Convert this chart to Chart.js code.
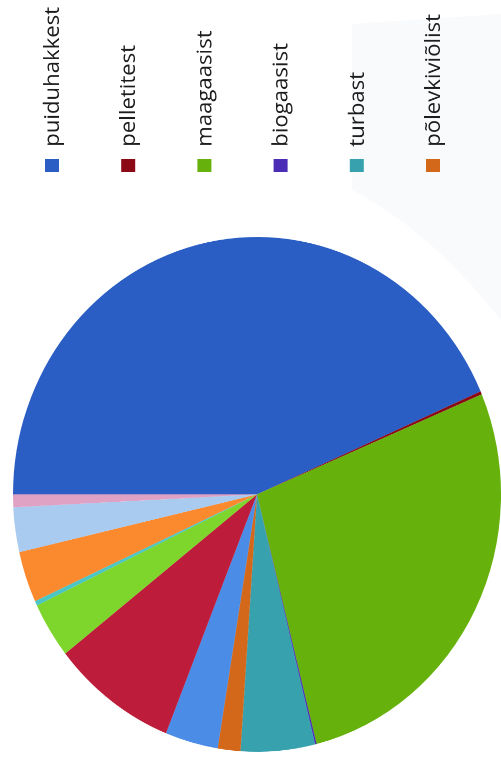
<!DOCTYPE html>
<html>
<head>
<meta charset="utf-8">
<script src="https://cdn.jsdelivr.net/npm/chart.js@4/dist/chart.umd.min.js"></script>
<style>
	body {
		margin: 0;
		background: #fff;
	}
	#wrap {
		position: relative;
		width: 501px;
		height: 765px;
		overflow: hidden;
		background: #fff;
	}
	#shade {
		position: absolute;
		left: 0;
		top: 0;
	}
	#heatChart {
		position: absolute;
		left: 0;
		top: 0;
		transform-origin: 0 0;
		/* the picture is the chart turned a quarter to the left, slightly stretched */
		transform: matrix(0, -1.055, 1, 0, 0, 765);
	}
</style>
</head>
<body>
<div id="wrap">
	<svg id="shade" width="501" height="765">
		<path d="M352,24 L501,14 L501,320 Q430,230 352,190 Z" fill="#f9fafc" />
	</svg>
	<canvas id="heatChart" width="725" height="501"></canvas>
</div>
<script>
const categories = [
	"puiduhakkest",
	"pelletitest",
	"maagaasist",
	"biogaasist",
	"turbast",
	"põlevkiviõlist",
	"muu 7",
	"muu 8",
	"muu 9",
	"muu 10",
	"muu 11",
	"muu 12",
	"muu 13",
];
const shares = [43.4, 0.2, 27.4, 0.1, 4.9, 1.5, 3.5, 8.3, 3.5, 0.3, 3.2, 2.8, 0.8];
const colors = [
	"#2a5ec4",
	"#8c0a16",
	"#66b10c",
	"#4a2cb6",
	"#37a2ae",
	"#d4681a",
	"#4a8ce6",
	"#bd1c3a",
	"#7ed62c",
	"#4cc6c4",
	"#fb892e",
	"#a9cbf0",
	"#dfa2c4",
];
// only the first six legend rows are inside the picture
const legendShown = 6;

const sideLegend = {
	id: "sideLegend",
	afterDraw(chart) {
		const c = chart.ctx;
		c.save();
		c.font = "21px 'Open Sans'";
		c.textBaseline = "alphabetic";
		for (let i = 0; i < legendShown; i++) {
			const y = 52 + i * 76.2;
			c.fillStyle = colors[i];
			c.fillRect(562, y - 7, 12.5, 14);
			c.fillStyle = "#1c1c1c";
			c.fillText(chart.data.labels[i], 586, y + 7);
		}
		c.restore();
	},
};

const ctx = document.getElementById("heatChart").getContext("2d");
const heatChart = new Chart(ctx, {
	type: "pie",
	data: {
		labels: categories,
		datasets: [
			{
				data: shares,
				backgroundColor: colors,
				borderWidth: 0,
				radius: 244,
			},
		],
	},
	options: {
		responsive: false,
		devicePixelRatio: 2,
		animation: false,
		layout: {
			padding: { left: 0, right: 212, top: 13, bottom: 0 },
		},
		plugins: {
			legend: { display: false },
			tooltip: { enabled: false },
		},
	},
	plugins: [sideLegend],
});
</script>
</body>
</html>
